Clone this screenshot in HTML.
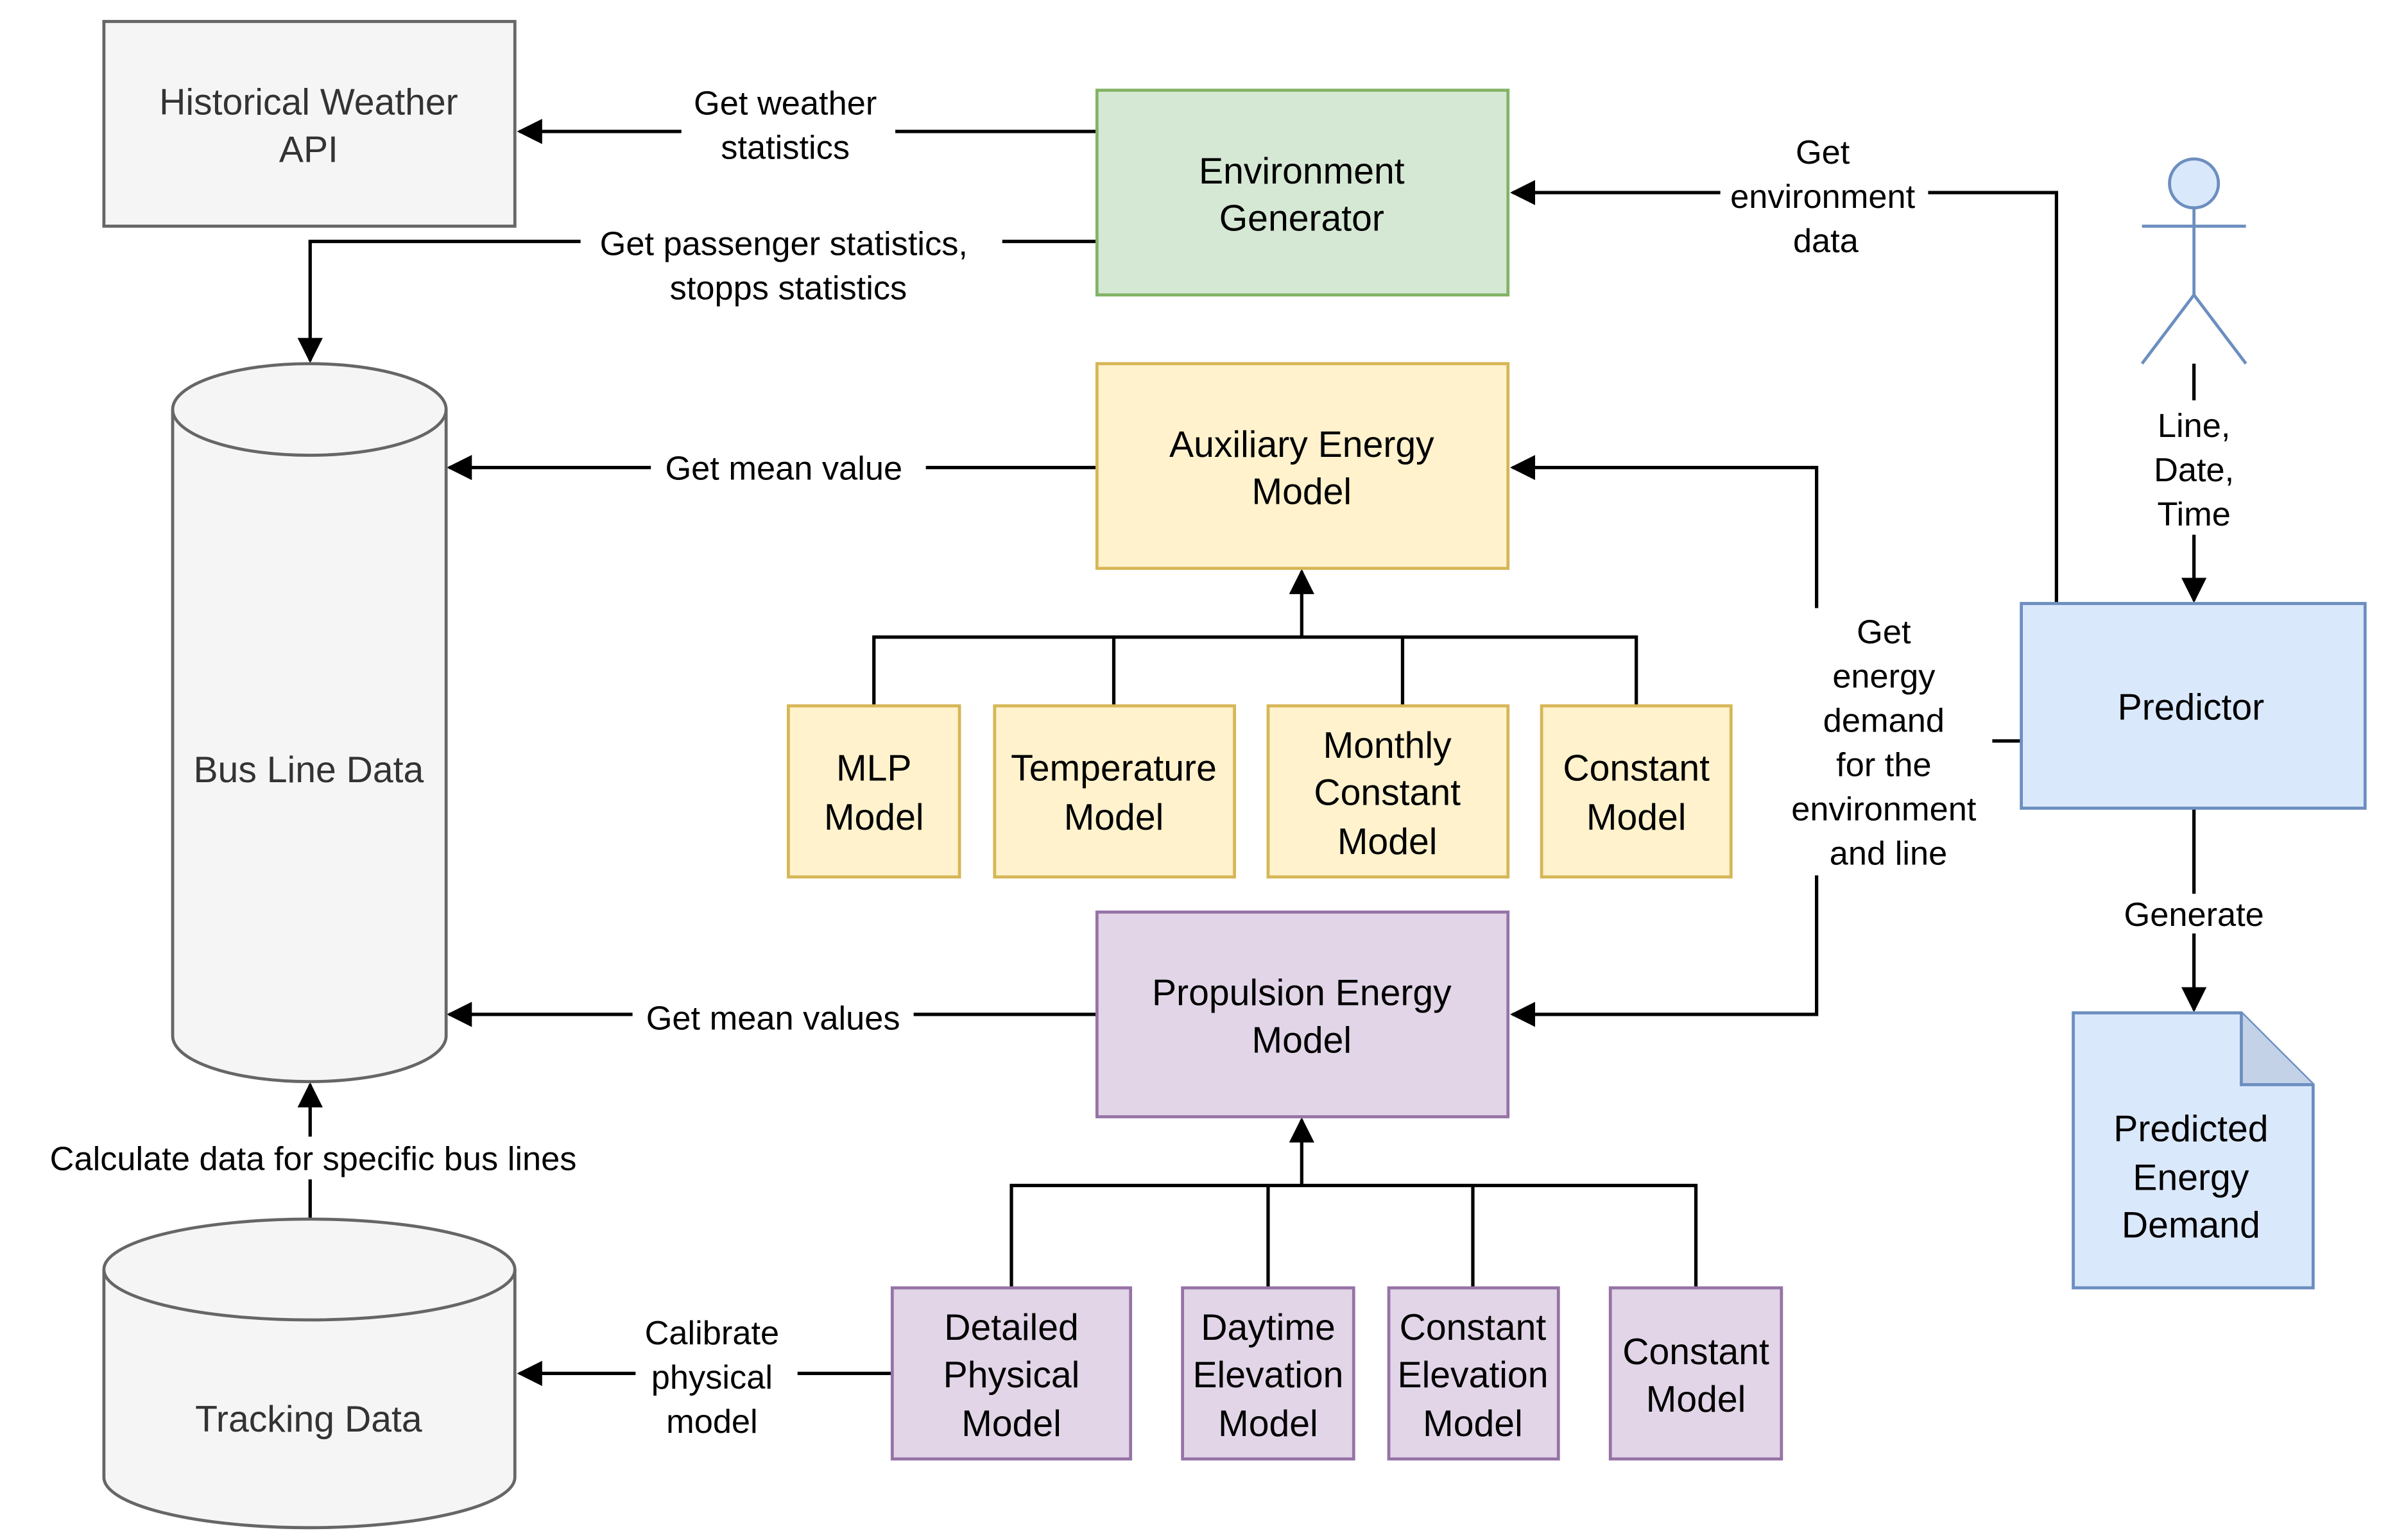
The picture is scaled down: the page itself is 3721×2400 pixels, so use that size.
<!DOCTYPE html>
<html><head><style>html,body{margin:0;padding:0;background:#fff}svg{display:block}</style></head><body>
<svg width="3721" height="2400" viewBox="0 0 1563 1008" xmlns="http://www.w3.org/2000/svg" font-family="Liberation Sans, Arial, sans-serif">
<defs><marker id="a" viewBox="0 0 10 10" refX="9" refY="5" markerWidth="7.5" markerHeight="7.5" orient="auto"><path d="M0,0 L10,5 L0,10 Z" fill="#000"/></marker></defs>
<g stroke="#000" stroke-width="2.2" fill="none">
<path d="M718,86 H340" marker-end="url(#a)"/>
<path d="M718,158 H203 V236" marker-end="url(#a)"/>
<path d="M718,306 H294" marker-end="url(#a)"/>
<path d="M718,664 H294" marker-end="url(#a)"/>
<path d="M572,462 V417 H1071 V462 M729,417 V462 M918,417 V462"/>
<path d="M852,417 V374" marker-end="url(#a)"/>
<path d="M662,843 V776 H1110 V843 M830,776 V843 M964,776 V843"/>
<path d="M852,776 V733" marker-end="url(#a)"/>
<path d="M203,798 V710" marker-end="url(#a)"/>
<path d="M584,899 H340" marker-end="url(#a)"/>
<path d="M1436,238 V393" marker-end="url(#a)"/>
<path d="M1346,395 V126 H990" marker-end="url(#a)"/>
<path d="M1323,485 H1189"/>
<path d="M1189,485 V306 H990" marker-end="url(#a)"/>
<path d="M1189,485 V664 H990" marker-end="url(#a)"/>
<path d="M1436,529 V661" marker-end="url(#a)"/>
</g>
<g stroke-width="2">
<rect x="68" y="14" width="269" height="134" fill="#f5f5f5" stroke="#666"/>
<rect x="718" y="59" width="269" height="134" fill="#d5e8d4" stroke="#82b366"/>
<rect x="718" y="238" width="269" height="134" fill="#fff2cc" stroke="#d6b656"/>
<rect x="516" y="462" width="112" height="112" fill="#fff2cc" stroke="#d6b656"/>
<rect x="651" y="462" width="157" height="112" fill="#fff2cc" stroke="#d6b656"/>
<rect x="830" y="462" width="157" height="112" fill="#fff2cc" stroke="#d6b656"/>
<rect x="1009" y="462" width="124" height="112" fill="#fff2cc" stroke="#d6b656"/>
<rect x="718" y="597" width="269" height="134" fill="#e1d5e7" stroke="#9673a6"/>
<rect x="584" y="843" width="156" height="112" fill="#e1d5e7" stroke="#9673a6"/>
<rect x="774" y="843" width="112" height="112" fill="#e1d5e7" stroke="#9673a6"/>
<rect x="909" y="843" width="111" height="112" fill="#e1d5e7" stroke="#9673a6"/>
<rect x="1054" y="843" width="112" height="112" fill="#e1d5e7" stroke="#9673a6"/>
<rect x="1323" y="395" width="225" height="134" fill="#dae8fc" stroke="#6c8ebf"/>
<path d="M1357,663 H1467 L1514,710 V843 H1357 Z" fill="#dae8fc" stroke="#6c8ebf"/>
<path d="M1467,663 V710 H1514" fill="#c3d2e6" stroke="#6c8ebf"/>
<path d="M113,268 V678 A89.5,30 0 0 0 292,678 V268 A89.5,30 0 0 0 113,268 Z" fill="#f5f5f5" stroke="#666"/>
<path d="M113,268 A89.5,30 0 0 0 292,268" fill="none" stroke="#666"/>
<path d="M68,831 V967 A134.5,33 0 0 0 337,967 V831 A134.5,33 0 0 0 68,831 Z" fill="#f5f5f5" stroke="#666"/>
<path d="M68,831 A134.5,33 0 0 0 337,831" fill="none" stroke="#666"/>
<g stroke="#6c8ebf" fill="none">
<circle cx="1436" cy="120" r="16" fill="#dae8fc"/>
<path d="M1436,136 V193 M1402,148 H1470 M1436,193 L1402,238 M1436,193 L1470,238"/>
</g>
</g>
<g font-size="24" text-anchor="middle" fill="#000">
<text x="202" y="75" fill="#333">Historical Weather</text><text x="202" y="106" fill="#333">API</text>
<text x="852" y="120">Environment</text><text x="852" y="151">Generator</text>
<text x="852" y="299">Auxiliary Energy</text><text x="852" y="330">Model</text>
<text x="572" y="511">MLP</text><text x="572" y="543">Model</text>
<text x="729" y="511">Temperature</text><text x="729" y="543">Model</text>
<text x="908" y="496">Monthly</text><text x="908" y="527">Constant</text><text x="908" y="559">Model</text>
<text x="1071" y="511">Constant</text><text x="1071" y="543">Model</text>
<text x="852" y="658">Propulsion Energy</text><text x="852" y="689">Model</text>
<text x="662" y="877">Detailed</text><text x="662" y="908">Physical</text><text x="662" y="940">Model</text>
<text x="830" y="877">Daytime</text><text x="830" y="908">Elevation</text><text x="830" y="940">Model</text>
<text x="964" y="877">Constant</text><text x="964" y="908">Elevation</text><text x="964" y="940">Model</text>
<text x="1110" y="893">Constant</text><text x="1110" y="924">Model</text>
<text x="1434" y="471">Predictor</text>
<text x="1434" y="747">Predicted</text><text x="1434" y="779">Energy</text><text x="1434" y="810">Demand</text>
<text x="202" y="512" fill="#333">Bus Line Data</text>
<text x="202" y="937" fill="#333">Tracking Data</text>
</g>
<g font-size="22" text-anchor="middle" fill="#000">
<rect x="446" y="52" width="140" height="58" fill="#fff"/>
<text x="514" y="75">Get weather</text><text x="514" y="104">statistics</text>
<rect x="380" y="146" width="276" height="56" fill="#fff"/>
<text x="513" y="167">Get passenger statistics,</text><text x="516" y="196">stopps statistics</text>
<rect x="426" y="294" width="180" height="26" fill="#fff"/>
<text x="513" y="314">Get mean value</text>
<rect x="414" y="652" width="184" height="26" fill="#fff"/>
<text x="506" y="674">Get mean values</text>
<rect x="10" y="744" width="390" height="28" fill="#fff"/>
<text x="205" y="766">Calculate data for specific bus lines</text>
<rect x="416" y="856" width="106" height="88" fill="#fff"/>
<text x="466" y="880">Calibrate</text><text x="466" y="909">physical</text><text x="466" y="938">model</text>
<rect x="1400" y="262" width="72" height="88" fill="#fff"/>
<text x="1436" y="286">Line,</text><text x="1436" y="315">Date,</text><text x="1436" y="344">Time</text>
<rect x="1126" y="84" width="136" height="88" fill="#fff"/>
<text x="1193" y="107">Get</text><text x="1193" y="136">environment</text><text x="1195" y="165">data</text>
<rect x="1164" y="398" width="140" height="175" fill="#fff"/>
<text x="1233" y="421">Get</text><text x="1233" y="450">energy</text><text x="1233" y="479">demand</text><text x="1233" y="508">for the</text><text x="1233" y="537">environment</text><text x="1236" y="566">and line</text>
<rect x="1384" y="585" width="104" height="26" fill="#fff"/>
<text x="1436" y="606">Generate</text>
</g>
</svg>
</body></html>
